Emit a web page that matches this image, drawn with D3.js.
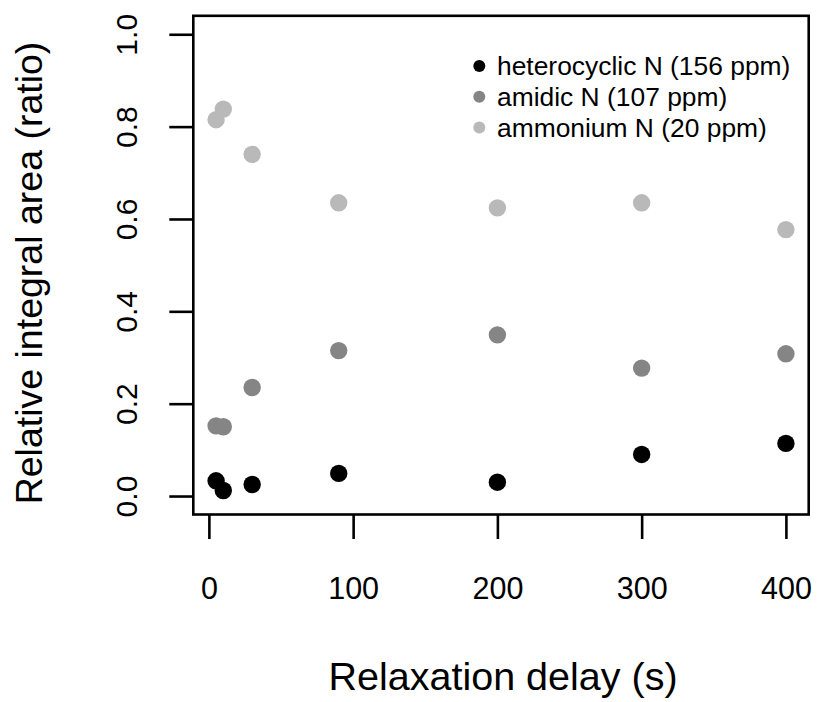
<!DOCTYPE html>
<html>
<head>
<meta charset="utf-8">
<script src="https://cdn.jsdelivr.net/npm/d3@7"></script>
<style>
  html, body { margin: 0; padding: 0; background: #fff; }
  text { font-family: "Liberation Sans", Arial, sans-serif; fill: #000; }
</style>
</head>
<body>
<svg id="chart" width="817" height="702"></svg>
<script>
const delays = [5, 10, 30, 90, 200, 300, 400];
const heterocyclic = [0.033, 0.012, 0.025, 0.049, 0.030, 0.090, 0.114];
const amidic = [0.152, 0.150, 0.235, 0.315, 0.349, 0.277, 0.308];
const ammonium = [0.815, 0.838, 0.740, 0.635, 0.624, 0.635, 0.577];
const seriesNames = ["heterocyclic N (156 ppm)", "amidic N (107 ppm)", "ammonium N (20 ppm)"];
const seriesColors = ["#000000", "#858585", "#b9b9b9"];
const xTicks = [0, 100, 200, 300, 400];
const yTicks = [0.0, 0.2, 0.4, 0.6, 0.8, 1.0];
const xTitle = "Relaxation delay (s)";
const yTitle = "Relative integral area (ratio)";

const svg = d3.select("#chart");
const L = 193.3, R = 808.7, T = 15.8, B = 514.5;

const x = d3.scaleLinear().domain([-10.8, 415.8]).range([L, R]);
const y = d3.scaleLinear().domain([-0.04, 1.04]).range([B, T]);

// box
svg.append("rect").attr("x", L).attr("y", T).attr("width", R - L).attr("height", B - T)
  .attr("fill", "none").attr("stroke", "#000").attr("stroke-width", 2.6);

// x axis
const xAxis = svg.append("g").attr("transform", `translate(0,${B})`)
  .call(d3.axisBottom(x).tickValues(xTicks).tickSize(24.5).tickSizeOuter(0).tickFormat(d3.format("d")));
xAxis.select(".domain").remove();
xAxis.selectAll(".tick line").attr("stroke", "#000").attr("stroke-width", 2.6);
xAxis.selectAll(".tick text").style("font-size", "30.5px").attr("dy", null).attr("y", 84)
  .style("font-family", '"Liberation Sans", Arial, sans-serif');

// y axis
const yAxis = svg.append("g").attr("transform", `translate(${L},0)`)
  .call(d3.axisLeft(y).tickValues(yTicks).tickSize(24).tickSizeOuter(0).tickFormat(d3.format(".1f")));
yAxis.select(".domain").remove();
yAxis.selectAll(".tick line").attr("stroke", "#000").attr("stroke-width", 2.6);
yAxis.selectAll(".tick text").remove();
yAxis.selectAll(".tick").append("text")
  .attr("transform", "translate(-56.6,0) rotate(-90)")
  .attr("text-anchor", "middle")
  .attr("fill", "#000")
  .style("font-size", "30px")
  .style("font-family", '"Liberation Sans", Arial, sans-serif')
  .text(d => d3.format(".1f")(d));

// titles
svg.append("text").attr("x", 503).attr("y", 690).attr("text-anchor", "middle")
  .style("font-size", "39.5px").text(xTitle);
svg.append("text").attr("transform", `translate(41.7,273) rotate(-90)`).attr("text-anchor", "middle")
  .style("font-size", "37.5px").text(yTitle);

// points
const allSeries = [heterocyclic, amidic, ammonium];
allSeries.forEach((vals, i) => {
  svg.append("g").selectAll("circle").data(vals).join("circle")
    .attr("cx", (d, j) => x(delays[j]))
    .attr("cy", d => y(d))
    .attr("r", 8.7)
    .attr("fill", seriesColors[i]);
});

// legend
const leg = svg.append("g");
seriesNames.forEach((name, i) => {
  const ly = 66 + i * 30.8;
  leg.append("circle").attr("cx", 479.3).attr("cy", ly).attr("r", 6).attr("fill", seriesColors[i]);
  leg.append("text").attr("x", 497).attr("y", ly + 9).style("font-size", "26.4px").text(name);
});
</script>
</body>
</html>
